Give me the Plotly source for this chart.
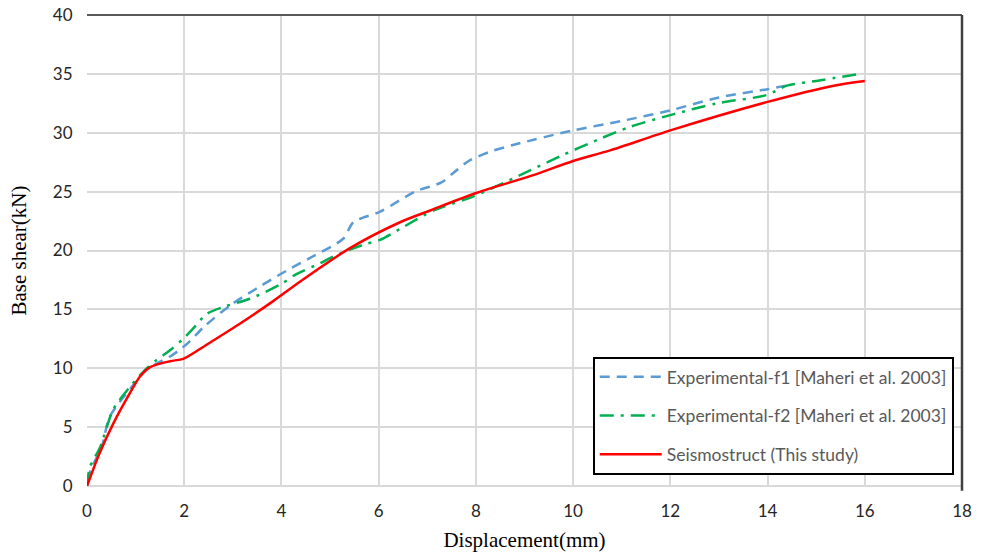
import plotly.graph_objects as go

# Experimental-f1 [Maheri et al. 2003]
f1_x = [0.0, 0.1, 0.3, 0.47, 0.88, 1.2, 1.43, 1.71, 1.95, 2.12, 2.4, 3.0, 3.5, 4.11, 4.6, 5.27, 5.48, 6.03, 6.75, 7.3, 7.54, 7.85, 8.3, 8.8, 10.0, 11.0, 12.0, 13.0, 14.0, 14.5]
f1_y = [0.5, 1.6, 3.3, 5.9, 8.2, 9.8, 10.4, 11.0, 11.7, 12.3, 13.5, 15.5, 16.8, 18.3, 19.4, 21.0, 22.4, 23.3, 25.0, 25.8, 26.6, 27.6, 28.4, 29.0, 30.2, 31.0, 31.9, 33.0, 33.7, 34.1]

# Experimental-f2 [Maheri et al. 2003]
f2_x = [0.0, 0.06, 0.27, 0.54, 0.88, 1.19, 1.43, 1.7, 1.98, 2.19, 2.46, 2.8, 3.35, 3.97, 4.31, 4.79, 5.07, 5.69, 6.03, 6.51, 7.13, 7.95, 8.91, 9.73, 10.56, 11.17, 12.0, 12.96, 13.98, 14.4, 15.0, 15.9]
f2_y = [0.0, 1.6, 3.3, 6.5, 8.4, 9.85, 10.7, 11.5, 12.5, 13.4, 14.6, 15.2, 15.9, 17.1, 18.0, 18.9, 19.5, 20.5, 20.9, 22.0, 23.4, 24.6, 26.4, 28.0, 29.5, 30.5, 31.5, 32.5, 33.2, 34.0, 34.4, 35.0]

# Seismostruct (This study)
ss_x = [0.0, 0.25, 0.54, 0.885, 1.09, 1.3, 1.71, 1.98, 2.46, 3.15, 3.83, 4.38, 5.41, 6.44, 7.06, 8.02, 9.18, 10.0, 10.76, 12.0, 13.98, 15.36, 16.0]
ss_y = [0.0, 2.7, 5.3, 7.9, 9.3, 10.1, 10.6, 10.8, 12.0, 13.8, 15.7, 17.35, 20.2, 22.4, 23.4, 24.9, 26.4, 27.6, 28.5, 30.2, 32.6, 34.0, 34.4]

x_ticks = [0, 2, 4, 6, 8, 10, 12, 14, 16, 18]
y_ticks = [0, 5, 10, 15, 20, 25, 30, 35, 40]

fig = go.Figure()
fig.add_trace(go.Scatter(x=f1_x, y=f1_y, mode="lines", name="Experimental-f1 [Maheri et al. 2003]",
                         legendgroup="a",
                         line=dict(color="#5b9bd5", width=2.5, dash="10px,7px", shape="spline", smoothing=0.8)))
fig.add_trace(go.Scatter(x=f2_x, y=f2_y, mode="lines", name="Experimental-f2 [Maheri et al. 2003]",
                         legendgroup="b",
                         line=dict(color="#00b050", width=2.5, dash="14px,7px,3px,7px", shape="spline", smoothing=0.8)))
fig.add_trace(go.Scatter(x=ss_x, y=ss_y, mode="lines", name="Seismostruct (This study)",
                         legendgroup="c",
                         line=dict(color="#ff0000", width=2.5, shape="spline", smoothing=0.8)))

fig.update_layout(
    width=984, height=552,
    margin=dict(l=87, r=22, t=15, b=66),
    paper_bgcolor="white", plot_bgcolor="white",
    font=dict(family="Lato", size=17, color="#262626"),
    xaxis=dict(range=[0, 18], tickvals=x_ticks, showgrid=True, gridcolor="#d9d9d9", gridwidth=1.5,
               automargin=False,
               zeroline=False, showline=False, ticks="outside", ticklen=10, tickcolor="rgba(0,0,0,0)",
               tickfont=dict(family="Lato", size=17, color="#262626"),
               title=dict(text="Displacement(mm)", font=dict(family="Liberation Serif", size=21, color="#000000"),
                          standoff=14)),
    yaxis=dict(range=[0, 40], tickvals=y_ticks, showgrid=True, gridcolor="#d9d9d9", gridwidth=1.5,
               automargin=False,
               zeroline=False, showline=False, ticks="outside", ticklen=10, tickcolor="rgba(0,0,0,0)",
               tickfont=dict(family="Lato", size=17, color="#262626"),
               title=dict(text="Base shear(kN)", font=dict(family="Liberation Serif", size=21, color="#000000"),
                          standoff=20)),
    legend=dict(x=0.578, y=0.274, xanchor="left", yanchor="top", bgcolor="white",
                bordercolor="#000000", borderwidth=2, itemwidth=62, tracegroupgap=13,
                traceorder="grouped",
                font=dict(family="Lato", size=17.5, color="#595959")),
    showlegend=True,
)
# frame: dark top and right edges, light bottom
fig.add_shape(type="line", xref="paper", yref="paper", x0=0, x1=1, y0=1, y1=1,
              line=dict(color="#595959", width=2))
fig.add_shape(type="line", xref="paper", yref="paper", x0=1, x1=1, y0=-0.01, y1=1,
              line=dict(color="#404040", width=2.5))
fig.add_shape(type="line", xref="paper", yref="paper", x0=0, x1=1, y0=0, y1=0,
              line=dict(color="#d9d9d9", width=2), layer="below")

fig.write_html("out.html")
